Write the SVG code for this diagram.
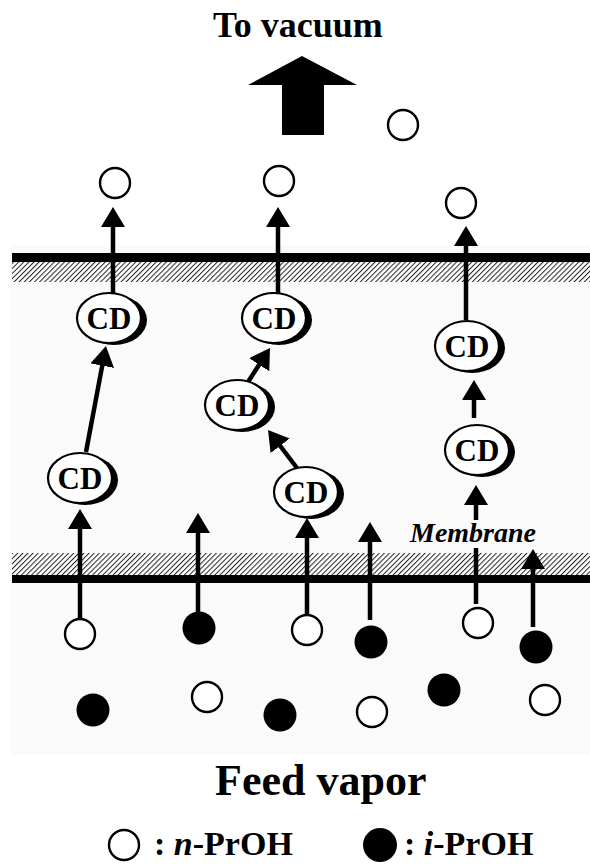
<svg xmlns="http://www.w3.org/2000/svg" width="590" height="864" viewBox="0 0 590 864">
  <defs>
    <pattern id="hatch" patternUnits="userSpaceOnUse" width="3.6" height="3.6" patternTransform="rotate(45)">
      <rect width="3.6" height="3.6" fill="#ffffff"/>
      <line x1="0" y1="0" x2="0" y2="3.6" stroke="#222" stroke-width="2"/>
    </pattern>
    <marker id="head" viewBox="0 0 20 24" refX="8" refY="12" markerWidth="20" markerHeight="24" markerUnits="userSpaceOnUse" orient="auto">
      <path d="M0,0 L20,12 L0,24 Z" fill="#000"/>
    </marker>
    <g id="cd">
      <ellipse cx="5" cy="2" rx="33" ry="25" fill="#000"/>
      <ellipse cx="0" cy="0" rx="32" ry="25" fill="#fff" stroke="#000" stroke-width="2.2"/>
      <text x="0" y="10.5" class="cdt">CD</text>
    </g>
  </defs>
  <style>
    .title { font-family: "Liberation Serif", "Times New Roman", serif; font-weight: bold; fill: #000; }
    .cdt { font-family: "Liberation Serif", "Times New Roman", serif; font-weight: bold; font-size: 31px; text-anchor: middle; fill: #000; }
    .open { fill: #fff; stroke: #000; stroke-width: 2.4; }
    .fill { fill: #000; }
    .shaft { stroke: #000; stroke-width: 4.5; fill: none; marker-end: url(#head); }
  </style>

  <rect width="590" height="864" fill="#fff"/>
  <!-- membrane zone background -->
  <rect x="10" y="245" width="580" height="510" fill="#fafafa"/>

  <text class="title" x="213" y="37" font-size="36">To vacuum</text>

  <!-- large outlet arrow -->
  <path d="M302,56 L357,85 L324,85 L324,135 L282,135 L282,85 L248,85 Z" fill="#000"/>

  <!-- membrane layers -->
  <g id="membrane-top">
    <rect x="12" y="262" width="578" height="20" fill="url(#hatch)"/>
    <rect x="12" y="253" width="578" height="9" fill="#000"/>
  </g>
  <g id="membrane-bottom">
    <rect x="12" y="553" width="578" height="22" fill="url(#hatch)"/>
    <rect x="12" y="575" width="578" height="8" fill="#000"/>
  </g>

  <g id="connectors">
    <line class="shaft" x1="80" y1="618" x2="80" y2="521"/>
    <line class="shaft" x1="86" y1="452" x2="103.7" y2="357.8"/>
    <line class="shaft" x1="113" y1="293" x2="113" y2="219"/>
    <line class="shaft" x1="198" y1="612" x2="198" y2="525"/>
    <line class="shaft" x1="307" y1="614" x2="307" y2="530"/>
    <line class="shaft" x1="297" y1="468" x2="275.3" y2="439.5"/>
    <line class="shaft" x1="248" y1="382" x2="263.5" y2="358"/>
    <line class="shaft" x1="278" y1="293" x2="278" y2="219"/>
    <line class="shaft" x1="370" y1="620" x2="370" y2="534"/>
    <line class="shaft" x1="476" y1="604" x2="476" y2="497"/>
    <line class="shaft" x1="474" y1="418" x2="474" y2="392"/>
    <line class="shaft" x1="466" y1="320" x2="466" y2="238"/>
    <line class="shaft" x1="533" y1="627" x2="533" y2="561"/>
  </g>

  <!-- membrane label with a clear patch behind it -->
  <rect x="408" y="520" width="134" height="28" fill="#fafafa"/>
  <text class="title" x="410" y="542" font-size="28" font-style="italic">Membrane</text>

  <g id="cd1"><use href="#cd" x="109" y="318"/></g>
  <g id="cd2"><use href="#cd" x="274" y="318"/></g>
  <g id="cd3"><use href="#cd" x="237" y="405"/></g>
  <g id="cd4"><use href="#cd" x="306" y="492"/></g>
  <g id="cd5"><use href="#cd" x="80" y="478"/></g>
  <g id="cd6"><use href="#cd" x="467" y="346"/></g>
  <g id="cd7"><use href="#cd" x="477" y="450"/></g>

  <!-- permeate molecules -->
  <g id="permeate">
    <circle class="open" cx="115" cy="183" r="15"/>
    <circle class="open" cx="279" cy="181" r="15"/>
    <circle class="open" cx="461" cy="203" r="15"/>
    <circle class="open" cx="403" cy="125" r="15"/>
  </g>

  <!-- feed molecules -->
  <g id="feed">
    <circle class="open" cx="80" cy="634" r="15"/>
    <circle class="fill" cx="199" cy="628" r="16.5"/>
    <circle class="open" cx="307" cy="630" r="15"/>
    <circle class="fill" cx="371" cy="642" r="16.5"/>
    <circle class="open" cx="478" cy="623" r="15"/>
    <circle class="fill" cx="536" cy="647" r="16.5"/>
    <circle class="fill" cx="93" cy="710" r="16.5"/>
    <circle class="open" cx="207" cy="697" r="15"/>
    <circle class="fill" cx="280" cy="715" r="16.5"/>
    <circle class="open" cx="372" cy="712" r="15"/>
    <circle class="fill" cx="444" cy="690" r="16.5"/>
    <circle class="open" cx="545" cy="700" r="15"/>
  </g>

  <text class="title" x="215" y="795" font-size="44">Feed vapor</text>

  <!-- legend -->
  <g id="legend">
    <circle class="open" cx="124" cy="845" r="15"/>
    <text class="title" x="154" y="855" font-size="34">: <tspan font-style="italic">n</tspan>-PrOH</text>
    <circle class="fill" cx="380" cy="845" r="17"/>
    <text class="title" x="404" y="855" font-size="34">: <tspan font-style="italic">i</tspan>-PrOH</text>
  </g>
</svg>
